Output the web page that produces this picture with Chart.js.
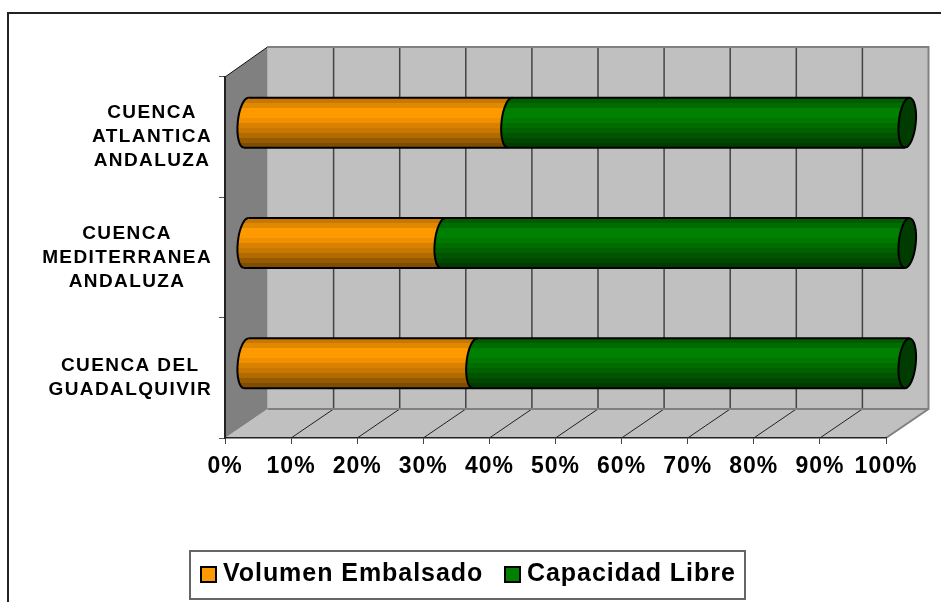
<!DOCTYPE html>
<html>
<head>
<meta charset="utf-8">
<title>Cuencas</title>
<script src="https://cdn.jsdelivr.net/npm/chart.js@4"></script>
<style>
  html, body { margin: 0; padding: 0; background: #fff; overflow: hidden; }
  canvas { display: block; }
</style>
</head>
<body>
<canvas id="grafica" width="941" height="602"></canvas>
<script>
"use strict";

const categorias = [
    ["CUENCA", "ATLANTICA", "ANDALUZA"],
    ["CUENCA", "MEDITERRANEA", "ANDALUZA"],
    ["CUENCA DEL", "GUADALQUIVIR"]
];
const volumenEmbalsado = [39.9, 29.8, 34.6];
const capacidadLibre = [60.1, 70.2, 65.4];
const nombresSeries = ["Volumen Embalsado", "Capacidad Libre"];
const marcasX = [0, 10, 20, 30, 40, 50, 60, 70, 80, 90, 100];

// bandas de color del cilindro, de arriba a abajo
const bandasNaranja = ["#c87800", "#e08800", "#ff9900", "#ff9900", "#f09000", "#d88000", "#c87800", "#b06a00", "#965a00", "#7f4c00"];
const bandasVerde = ["#005c00", "#006c00", "#008000", "#008000", "#007800", "#006c00", "#006000", "#005400", "#004800", "#003c00"];

// desplazamiento de la pared del fondo respecto al plano frontal
const FONDO_X = 42.5;
const FONDO_Y = -29;
const RADIO_X = 8.5;
const GIRO = 0.1;
const ALTO_BARRA = 50;

function bandas(ctx, y, colores) {
    let arriba = y - ALTO_BARRA / 2;
    let g = ctx.createLinearGradient(0, arriba, 0, arriba + ALTO_BARRA);
    colores.forEach((c, i) => {
        g.addColorStop(i / colores.length, c);
        g.addColorStop((i + 1) / colores.length, c);
    });
    return g;
}

function colorBarra(colores) {
    return (c) => {
        let escala = c.chart.scales.y;
        let y = escala && c.dataIndex !== undefined ? escala.getPixelForValue(c.dataIndex) : NaN;
        if (!Number.isFinite(y)) return colores[2];
        return bandas(c.chart.ctx, y, colores);
    };
}

function trazo(ctx, color, ancho, puntos) {
    ctx.strokeStyle = color;
    ctx.lineWidth = ancho;
    ctx.beginPath();
    puntos.forEach((p, i) => i ? ctx.lineTo(p[0], p[1]) : ctx.moveTo(p[0], p[1]));
    ctx.stroke();
}

function relleno(ctx, color, puntos) {
    ctx.fillStyle = color;
    ctx.beginPath();
    puntos.forEach((p, i) => i ? ctx.lineTo(p[0], p[1]) : ctx.moveTo(p[0], p[1]));
    ctx.closePath();
    ctx.fill();
}

// extremo del cilindro: elipse rellena y solo la mitad izquierda con contorno
function extremo(ctx, x, y, color) {
    ctx.fillStyle = color;
    ctx.beginPath();
    ctx.ellipse(x, y, RADIO_X, ALTO_BARRA / 2, GIRO, 0, Math.PI * 2);
    ctx.fill();
    ctx.strokeStyle = "#000";
    ctx.lineWidth = 2;
    ctx.beginPath();
    ctx.ellipse(x, y, RADIO_X, ALTO_BARRA / 2, GIRO, Math.PI / 2, Math.PI * 1.5);
    ctx.stroke();
}

const paredes = {
    id: "paredes",
    beforeDraw(chart) {
        const ctx = chart.ctx;
        const { left: l, right: r, top: t, bottom: b } = chart.chartArea;
        const xs = chart.scales.x;
        const arribaFondo = t + FONDO_Y - 1;
        const abajoFondo = b + FONDO_Y;
        ctx.letterSpacing = "1px";

        // marco del grafico: solo arriba y a la izquierda
        ctx.fillStyle = "#fff";
        ctx.fillRect(0, 0, chart.width, chart.height);
        trazo(ctx, "#222", 2, [[8, chart.height], [8, 13], [chart.width, 13]]);

        relleno(ctx, "#c0c0c0", [[l + FONDO_X, arribaFondo], [r + FONDO_X, arribaFondo], [r + FONDO_X, abajoFondo], [l + FONDO_X, abajoFondo]]);
        relleno(ctx, "#c0c0c0", [[l, b], [r, b], [r + FONDO_X, abajoFondo], [l + FONDO_X, abajoFondo]]);
        relleno(ctx, "#808080", [[l, t], [l + FONDO_X, arribaFondo], [l + FONDO_X, abajoFondo], [l, b]]);

        marcasX.forEach((v) => {
            let x = xs.getPixelForValue(v);
            if (v > 0 && v < 100) {
                trazo(ctx, "#444", 1.5, [[x + FONDO_X, arribaFondo], [x + FONDO_X, abajoFondo]]);
                trazo(ctx, "#222", 1, [[x, b], [x + FONDO_X, abajoFondo]]);
            }
        });

        trazo(ctx, "#808080", 2, [[l + FONDO_X, abajoFondo], [r + FONDO_X, abajoFondo], [r + FONDO_X, arribaFondo], [l + FONDO_X, arribaFondo]]);
        trazo(ctx, "#808080", 2, [[r, b], [r + FONDO_X, abajoFondo]]);
        trazo(ctx, "#111", 1, [[l, t], [l + FONDO_X, arribaFondo]]);
    },
    afterDraw(chart) {
        const ctx = chart.ctx;
        const ys = chart.scales.y;

        // etiquetas de categoria: centradas por bloque y alineadas a la derecha
        ctx.save();
        ctx.fillStyle = "#000";
        ctx.font = "bold 19px 'Liberation Sans'";
        ctx.letterSpacing = "1.4px";
        ctx.textAlign = "center";
        ctx.textBaseline = "middle";
        categorias.forEach((lineas, i) => {
            let ancho = Math.max(...lineas.map((s) => ctx.measureText(s).width));
            let y = ys.getPixelForValue(i) - (lineas.length - 1) * 12;
            lineas.forEach((s, j) => ctx.fillText(s, 212 - ancho / 2, y + j * 24));
        });

        // leyenda
        trazo(ctx, "#666", 2, [[190, 551], [745, 551]]);
        trazo(ctx, "#666", 2, [[190, 599], [745, 599]]);
        trazo(ctx, "#666", 2, [[190, 550], [190, 600]]);
        trazo(ctx, "#666", 2, [[745, 550], [745, 600]]);
        ctx.font = "bold 25px 'Liberation Sans'";
        ctx.letterSpacing = "0.95px";
        ctx.textAlign = "left";
        ctx.textBaseline = "alphabetic";
        [[201, "#ff9900"], [505, "#008000"]].forEach((e, i) => {
            ctx.fillStyle = e[1];
            ctx.fillRect(e[0], 567, 15, 15);
            ctx.strokeStyle = "#000";
            ctx.lineWidth = 2;
            ctx.strokeRect(e[0], 567, 15, 15);
            ctx.fillStyle = "#000";
            ctx.fillText(nombresSeries[i], e[0] + 22, 581);
        });
        ctx.restore();
    },
    beforeDatasetsDraw(chart) {
        chart.ctx.save();
        // las barras van a media profundidad
        chart.ctx.translate(FONDO_X / 2, FONDO_Y / 2);
    },
    afterDatasetsDraw(chart) {
        const ctx = chart.ctx;
        const ys = chart.scales.y;
        const xs = chart.scales.x;
        const inclinacion = Math.sin(GIRO) * ALTO_BARRA / 2;
        categorias.forEach((c, i) => {
            let y = ys.getPixelForValue(i);
            let x0 = xs.getPixelForValue(0);
            let xm = xs.getPixelForValue(volumenEmbalsado[i]);
            let xf = xs.getPixelForValue(volumenEmbalsado[i] + capacidadLibre[i]);
            let arriba = y - ALTO_BARRA / 2;
            let abajo = y + ALTO_BARRA / 2;

            extremo(ctx, x0, y, bandas(ctx, y, bandasNaranja));
            extremo(ctx, xm, y, bandas(ctx, y, bandasVerde));

            // tapa derecha
            ctx.fillStyle = "#003c00";
            ctx.beginPath();
            ctx.ellipse(xf, y, RADIO_X, ALTO_BARRA / 2, GIRO, 0, Math.PI * 2);
            ctx.fill();
            ctx.stroke();

            trazo(ctx, "#000", 2, [[x0 + inclinacion, arriba], [xf + inclinacion, arriba]]);
            trazo(ctx, "#000", 2, [[x0 - inclinacion, abajo], [xf - inclinacion, abajo]]);
        });
        ctx.restore();
    }
};

const ctx = document.getElementById("grafica").getContext("2d");
new Chart(ctx, {
    type: "bar",
    data: {
        labels: categorias,
        datasets: [
            {
                label: nombresSeries[0],
                data: volumenEmbalsado,
                backgroundColor: colorBarra(bandasNaranja),
                borderWidth: 0,
                barThickness: ALTO_BARRA,
                clip: false
            },
            {
                label: nombresSeries[1],
                data: capacidadLibre,
                backgroundColor: colorBarra(bandasVerde),
                borderWidth: 0,
                barThickness: ALTO_BARRA,
                clip: false
            }
        ]
    },
    options: {
        indexAxis: "y",
        responsive: false,
        animation: false,
        layout: { padding: { left: 0, top: 77, right: 55, bottom: 0 } },
        plugins: { legend: { display: false }, tooltip: { enabled: false } },
        scales: {
            x: {
                stacked: true,
                min: 0,
                max: 100,
                afterBuildTicks: (s) => { s.ticks = marcasX.map((v) => ({ value: v })); },
                afterFit: (s) => { s.height = 164; },
                border: { display: true, color: "#222", width: 1.5 },
                grid: { drawOnChartArea: false, drawTicks: true, tickLength: 6, color: "#444" },
                ticks: {
                    autoSkip: false,
                    maxRotation: 0,
                    padding: 9,
                    color: "#000",
                    font: { family: "'Liberation Sans'", size: 23, weight: "bold" },
                    callback: (v) => v + "%"
                }
            },
            y: {
                stacked: true,
                afterFit: (s) => { s.width = 225; },
                border: { display: true, color: "#222", width: 2 },
                grid: { drawOnChartArea: false, drawTicks: true, tickLength: 6, color: "#555" },
                ticks: { display: false }
            }
        }
    },
    plugins: [paredes]
});
</script>
</body>
</html>
